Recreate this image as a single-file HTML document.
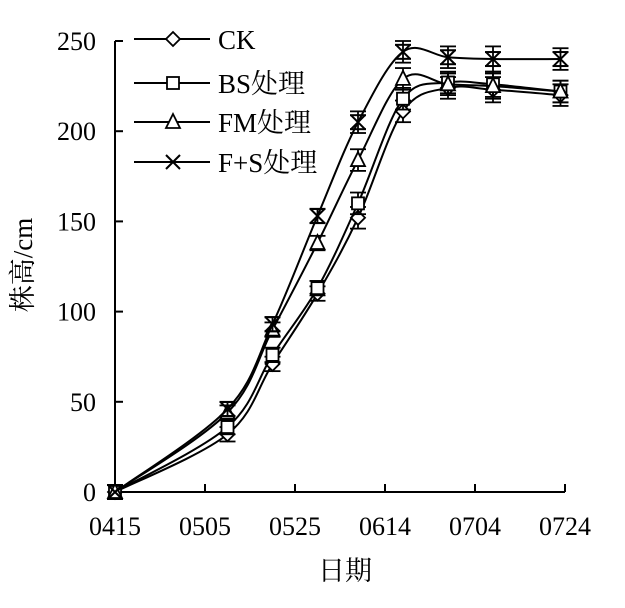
<!DOCTYPE html>
<html><head><meta charset="utf-8"><style>
body{margin:0;background:#fff}
svg text{font-family:"Liberation Serif","Noto Serif CJK SC",serif;fill:#000}
</style></head><body>
<svg width="625" height="603" viewBox="0 0 625 603">
<g id="axes"></g>
<g id="series"></g>
<g id="legend"></g>
<text x="0" y="0" transform="translate(32,265) rotate(-90)" text-anchor="middle" font-size="27">株高/cm</text>
<text x="345" y="580" text-anchor="middle" font-size="27">日期</text>
</svg>
<script>
const days = [0, 25, 35, 45, 54, 64, 74, 84, 99];
const seriesNames = ["CK", "BS处理", "FM处理", "F+S处理"];
const ck = [0, 32, 71, 110, 152, 211, 224, 223, 220];
const bs = [0, 36, 76, 113, 160, 218, 227, 226, 222];
const fm = [0, 44, 90, 138, 184, 229, 226, 225, 222];
const fs = [0, 46, 93, 153, 205, 244, 241, 240, 240];
const errs = [0, 4, 4, 4, 6, 6, 6, 7, 6];
const yTicks = [0, 50, 100, 150, 200, 250];
const xTickDays = [0, 20, 40, 60, 80, 100];
const xTickLabels = ["0415", "0505", "0525", "0614", "0704", "0724"];
const markers = ["diamond", "square", "triangle", "cross"];

const NS = "http://www.w3.org/2000/svg";
const X = d => 115 + d * 4.5;
const Y = v => 492 - v * 1.804;
function mk(tag, attrs, parent){const e=document.createElementNS(NS,tag);for(const k in attrs)e.setAttribute(k,attrs[k]);parent.appendChild(e);return e;}
const axes=document.getElementById('axes'), ser=document.getElementById('series'), leg=document.getElementById('legend');

let a=mk('line',{x1:115,y1:Y(0),x2:X(100),y2:Y(0),stroke:'#000','stroke-width':2},axes);


a=mk('line',{x1:115,y1:Y(0),x2:115,y2:Y(250),stroke:'#000','stroke-width':2},axes);


yTicks.forEach(v=>{
  mk('line',{x1:115,y1:Y(v),x2:123,y2:Y(v),stroke:'#000','stroke-width':2},axes);
  const t=mk('text',{x:96,y:Y(v)+9,'text-anchor':'end','font-size':26},axes);t.textContent=v;
  
  
});
xTickDays.forEach((d,i)=>{
  mk('line',{x1:X(d),y1:Y(0),x2:X(d),y2:Y(0)-8,stroke:'#000','stroke-width':2},axes);
  const t=mk('text',{x:X(d),y:535,'text-anchor':'middle','font-size':26},axes);t.textContent=xTickLabels[i];
  
  
});

function marker(type,cx,cy,p){
  const s={stroke:'#000','stroke-width':1.8,fill:'#fff'};
  if(type==='diamond') return mk('polygon',Object.assign({points:`${cx},${cy-7} ${cx+7},${cy} ${cx},${cy+7} ${cx-7},${cy}`},s),p);
  if(type==='square') return mk('rect',Object.assign({x:cx-6,y:cy-6,width:12,height:12},s),p);
  if(type==='triangle') return mk('polygon',Object.assign({points:`${cx},${cy-8} ${cx+7},${cy+6} ${cx-7},${cy+6}`},s),p);
  const g=mk('g',{},p);
  mk('line',{x1:cx-7,y1:cy-7,x2:cx+7,y2:cy+7,stroke:'#000','stroke-width':2},g);
  mk('line',{x1:cx+7,y1:cy-7,x2:cx-7,y2:cy+7,stroke:'#000','stroke-width':2},g);
  mk('line',{x1:cx-8,y1:cy-7,x2:cx+8,y2:cy-7,stroke:'#000','stroke-width':2},g);
  mk('line',{x1:cx-8,y1:cy+7,x2:cx+8,y2:cy+7,stroke:'#000','stroke-width':2},g);
  return g;
}
function smooth(pts){
  let d=`M${pts[0][0]},${pts[0][1]}`;
  for(let i=0;i<pts.length-1;i++){
    const p0=pts[i-1]||pts[i],p1=pts[i],p2=pts[i+1],p3=pts[i+2]||p2,k=1/6;
    d+=` C${p1[0]+(p2[0]-p0[0])*k},${p1[1]+(p2[1]-p0[1])*k} ${p2[0]-(p3[0]-p1[0])*k},${p2[1]-(p3[1]-p1[1])*k} ${p2[0]},${p2[1]}`;
  }
  return d;
}
[ck,bs,fm,fs].forEach((vals,si)=>{
  const g=mk('g',{},ser);
  
  
  const pts=days.map((d,i)=>[X(d),Y(vals[i])]);
  const p=mk('path',{d:smooth(pts),fill:'none',stroke:'#000','stroke-width':2},g);
  
  
  days.forEach((d,i)=>{
    const cx=X(d),e=errs[i];
    if(e>0){
      mk('line',{x1:cx,y1:Y(vals[i]+e),x2:cx,y2:Y(vals[i]-e),stroke:'#000','stroke-width':1.8},g);
      mk('line',{x1:cx-8,y1:Y(vals[i]+e),x2:cx+8,y2:Y(vals[i]+e),stroke:'#000','stroke-width':1.8},g);
      mk('line',{x1:cx-8,y1:Y(vals[i]-e),x2:cx+8,y2:Y(vals[i]-e),stroke:'#000','stroke-width':1.8},g);
    }
    const m=marker(markers[si],cx,Y(vals[i]),g);
    
    
  });
});
const legY=[39,83,122,162];
seriesNames.forEach((n,i)=>{
  const g=mk('g',{},leg);
  
  
  mk('line',{x1:134,y1:legY[i],x2:210,y2:legY[i],stroke:'#000','stroke-width':2},g);
  if(markers[i]==='cross'){
    mk('line',{x1:166,y1:legY[i]-7,x2:180,y2:legY[i]+7,stroke:'#000','stroke-width':2},g);
    mk('line',{x1:180,y1:legY[i]-7,x2:166,y2:legY[i]+7,stroke:'#000','stroke-width':2},g);
  } else marker(markers[i],173,legY[i],g);
  const t=mk('text',{x:218,y:legY[i]+10,'font-size':27},g);t.textContent=n;
});
</script>
</body></html>
